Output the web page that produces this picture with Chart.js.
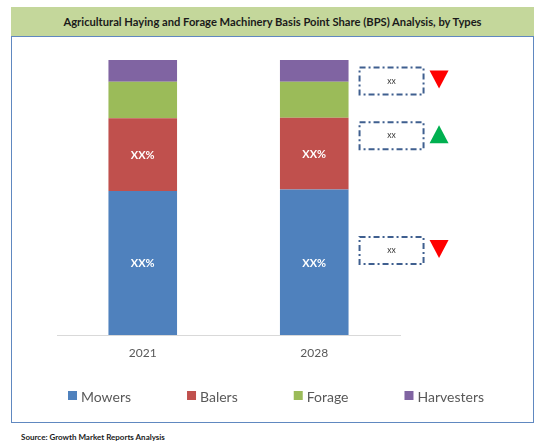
<!DOCTYPE html>
<html>
<head>
<meta charset="utf-8">
<script src="https://cdn.jsdelivr.net/npm/chart.js@4/dist/chart.umd.min.js"></script>
<style>
  html, body { margin: 0; padding: 0; background: #ffffff; }
  #wrap { position: relative; width: 553px; height: 446px; overflow: hidden; }
  #banner { position: absolute; left: 11px; top: 7px; width: 523px; height: 29px; background: #C4D79B;
            font: bold 11.2px Lato, "Liberation Sans", sans-serif; color: #1a1a1a; text-align: center; line-height: 30px; }
  #frame { position: absolute; left: 11px; top: 36px; width: 521px; height: 385px; border: 1.5px solid #6088C0; }
  #source { position: absolute; left: 21px; top: 432px; font: bold 8px Lato, "Liberation Sans", sans-serif; color: #1a1a1a; }
  #c { position: absolute; left: 0; top: 0; }
</style>
</head>
<body>
<div id="wrap">
  <div id="banner">Agricultural Haying and Forage Machinery Basis Point Share (BPS) Analysis, by Types</div>
  <div id="frame"></div>
  <div id="source">Source: Growth Market Reports Analysis</div>
  <canvas id="c" width="553" height="446"></canvas>
</div>
<script>
// ---- data ----
const categories = ['2021', '2028'];
const mowers = [52.4, 52.9];
const balers = [26.4, 26.1];
const forage = [13.3, 13.1];
const harvesters = [7.9, 7.9];
const seriesNames = ['Mowers', 'Balers', 'Forage', 'Harvesters'];
const valueLabel = 'XX%';
const labelledSeries = [0, 1];
// annotation call-outs beside the 2028 bar (y value of centre, trend)
const annotValues = [92.4, 72.5, 30.7];
const annotTrend = ['down', 'up', 'down'];
const annotText = 'xx';

const colors = ['#4F81BD', '#C0504D', '#9BBB59', '#8064A2'];
const font = 'Lato, "Liberation Sans", sans-serif';

const segLabels = {
  id: 'segLabels',
  afterDatasetsDraw(chart) {
    const ctx = chart.ctx;
    ctx.save();
    ctx.fillStyle = '#ffffff';
    ctx.font = 'bold 11px ' + font;
    ctx.textAlign = 'center';
    ctx.textBaseline = 'middle';
    labelledSeries.forEach(di => {
      chart.getDatasetMeta(di).data.forEach(bar => {
        ctx.fillText(valueLabel, bar.x, (bar.y + bar.base) / 2 + 1);
      });
    });
    ctx.restore();
  }
};

const callouts = {
  id: 'callouts',
  afterDraw(chart) {
    const ctx = chart.ctx;
    const ys = chart.scales.y;
    const meta = chart.getDatasetMeta(0);
    const bar = meta.data[meta.data.length - 1];
    const left = bar.x + bar.width / 2 + 11;
    const w = 64, h = 27;
    ctx.save();
    annotValues.forEach((v, i) => {
      const cy = ys.getPixelForValue(v);
      ctx.setLineDash([6, 3, 2, 3]);
      ctx.strokeStyle = '#3F5F8F';
      ctx.lineWidth = 2;
      ctx.strokeRect(left, cy - h / 2, w, h);
      ctx.setLineDash([]);
      ctx.fillStyle = '#333333';
      ctx.font = '8.5px ' + font;
      ctx.textAlign = 'center';
      ctx.textBaseline = 'middle';
      ctx.fillText(annotText, left + w / 2, cy);
      const tx = left + w + 6, tw = 19, th = 18, ty = cy - 1.5;
      ctx.beginPath();
      if (annotTrend[i] === 'down') {
        ctx.fillStyle = '#FF0000';
        ctx.moveTo(tx, ty - th / 2);
        ctx.lineTo(tx + tw, ty - th / 2);
        ctx.lineTo(tx + tw / 2, ty + th / 2);
      } else {
        ctx.fillStyle = '#00B050';
        ctx.moveTo(tx, ty + th / 2);
        ctx.lineTo(tx + tw, ty + th / 2);
        ctx.lineTo(tx + tw / 2, ty - th / 2);
      }
      ctx.closePath();
      ctx.fill();
    });
    ctx.restore();
  }
};

// legend drawn from the datasets (Excel-style wide spacing)
const wideLegend = {
  id: 'wideLegend',
  afterDraw(chart) {
    const ctx = chart.ctx;
    const ds = chart.data.datasets;
    const box = 9, gapText = 4, gapItem = 56, cy = 396;
    ctx.save();
    ctx.font = '14px ' + font;
    const widths = ds.map(d => box + gapText + ctx.measureText(d.label).width);
    const total = widths.reduce((a, b) => a + b, 0) + gapItem * (ds.length - 1);
    let x = 276 - total / 2;
    ctx.textBaseline = 'middle';
    ctx.textAlign = 'left';
    ds.forEach((d, i) => {
      ctx.fillStyle = d.backgroundColor;
      ctx.fillRect(x, cy - 5, box, box);
      ctx.fillStyle = '#595959';
      ctx.fillText(d.label, x + box + gapText, cy + 1);
      x += widths[i] + gapItem;
    });
    ctx.restore();
  }
};

const seriesData = [mowers, balers, forage, harvesters];
new Chart(document.getElementById('c'), {
  type: 'bar',
  data: {
    labels: categories,
    datasets: seriesNames.map((n, i) => ({
      label: n,
      data: seriesData[i],
      backgroundColor: colors[i],
      borderWidth: 0,
      categoryPercentage: 1,
      barPercentage: 0.4
    }))
  },
  options: {
    responsive: false,
    devicePixelRatio: 1,
    animation: false,
    layout: { padding: { top: 60, bottom: 67, left: 0, right: 0 } },
    plugins: {
      tooltip: { enabled: false },
      title: { display: false },
      legend: { display: false }
    },
    scales: {
      x: {
        stacked: true,
        grid: { display: false, drawTicks: false },
        border: { display: true, color: '#D9D9D9', width: 1 },
        ticks: { color: '#595959', font: { family: font, size: 12 }, padding: 11 },
        afterFit(s) { s.height = 44; }
      },
      y: {
        stacked: true, min: 0, max: 100,
        display: true,
        grid: { display: false, drawTicks: false },
        border: { display: false },
        ticks: { display: false },
        afterFit(s) { s.width = 57; }
      },
      yR: {
        type: 'linear', position: 'right',
        display: true,
        grid: { display: false, drawTicks: false },
        border: { display: false },
        ticks: { display: false },
        afterFit(s) { s.width = 153; }
      }
    }
  },
  plugins: [segLabels, callouts, wideLegend]
});
</script>
</body>
</html>
